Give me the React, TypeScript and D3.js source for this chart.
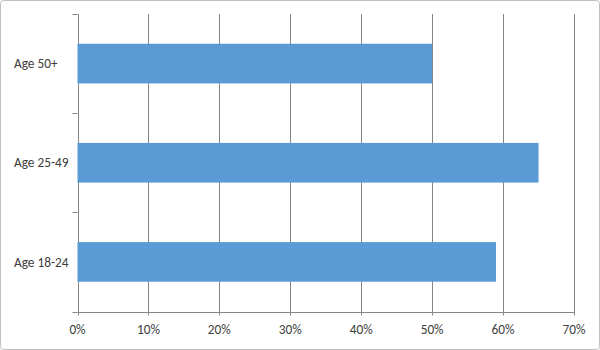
import React from "react";
import * as d3 from "d3";

const categories = ["Age 50+", "Age 25-49", "Age 18-24"];
const values = [0.5, 0.65, 0.59];
const tickValues = [0, 0.1, 0.2, 0.3, 0.4, 0.5, 0.6, 0.7];

export default function App() {
  const W = 600, H = 350;
  const left = 77.5, right = 574, top = 14, bottom = 311.5;
  const x = d3.scaleLinear().domain([0, 0.7]).range([left, right]);
  const y = d3.scaleBand<string>().domain(categories).range([top, bottom]).paddingInner(0.6).paddingOuter(0.3);
  const yb = d3.scaleBand<string>().domain(categories).range([top, bottom]);
  const fmt = d3.format(".0%");
  const font = "Carlito, Calibri, 'Open Sans', 'Liberation Sans', sans-serif";
  const axisColor = "#868686";
  const boundaries = [top, ...categories.map((c) => (yb(c) as number) + yb.bandwidth())];
  return (
    <svg width={W} height={H} style={{ position: "absolute", left: 0, top: 0 }} fontFamily={font}>
      <rect x={0.5} y={0.5} width={W - 1} height={H - 1} rx={3} fill="#fff" stroke="#BFBFBF" />
      {tickValues.map((t) => (
        <line key={t} x1={Math.round(x(t)) + 0.5} x2={Math.round(x(t)) + 0.5} y1={top} y2={bottom + 4} stroke={axisColor} strokeWidth={1} />
      ))}
      {boundaries.map((b, i) => (
        <line key={i} x1={left - 5} x2={left} y1={Math.round(b) + 0.5} y2={Math.round(b) + 0.5} stroke={axisColor} />
      ))}
      <line x1={left} x2={right + 0.5} y1={Math.round(bottom) + 0.5} y2={Math.round(bottom) + 0.5} stroke={axisColor} />
      {categories.map((c, i) => (
        <rect key={c} x={x(0)} y={y(c)} width={x(values[i]) - x(0)} height={y.bandwidth()} fill="#5B9BD5" />
      ))}
      {categories.map((c) => (
        <text key={c} x={14} y={(yb(c) as number) + yb.bandwidth() / 2} dy="0.35em" textAnchor="start" fontSize={13.3} fill="#404040">
          {c}
        </text>
      ))}
      {tickValues.map((t) => (
        <text key={t} x={x(t)} y={329} dy="0.35em" textAnchor="middle" fontSize={13.3} fill="#404040">
          {fmt(t)}
        </text>
      ))}
    </svg>
  );
}
